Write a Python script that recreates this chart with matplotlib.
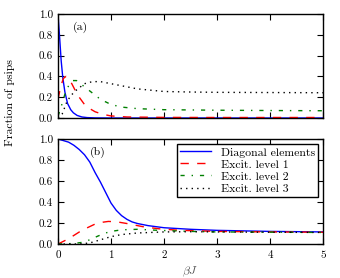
import matplotlib
matplotlib.use('Agg')
import matplotlib.pyplot as plt

plt.rcParams['font.family'] = ['cmr10', 'DejaVu Serif']
plt.rcParams['mathtext.fontset'] = 'cm'
plt.rcParams['axes.unicode_minus'] = False
plt.rcParams['lines.scale_dashes'] = False

# --- panel (a) data ---
xa_diag = [0, 0.03, 0.06, 0.09, 0.13, 0.18, 0.24, 0.29, 0.36, 0.45, 0.55, 0.7, 1.0, 2.0, 3.0, 4.0, 5.0]
ya_diag = [1.0, 0.78, 0.55, 0.39, 0.25, 0.14, 0.08, 0.05, 0.025, 0.01, 0.004, 0.001, 0.0, 0.0, 0.0, 0.0, 0.0]

xa_ex1 = [0, 0.05, 0.1, 0.15, 0.2, 0.26, 0.33, 0.4, 0.5, 0.6, 0.7, 0.85, 1.0, 1.3, 2.0, 3.0, 4.0, 5.0]
ya_ex1 = [0.18, 0.3, 0.38, 0.4, 0.38, 0.33, 0.26, 0.2, 0.13, 0.09, 0.06, 0.035, 0.02, 0.01, 0.006, 0.005, 0.005, 0.005]

xa_ex2 = [0, 0.05, 0.1, 0.15, 0.2, 0.28, 0.35, 0.45, 0.6, 0.8, 1.0, 1.2, 1.5, 2.0, 3.0, 4.0, 5.0]
ya_ex2 = [0.02, 0.09, 0.18, 0.26, 0.31, 0.36, 0.36, 0.32, 0.26, 0.18, 0.13, 0.105, 0.09, 0.08, 0.075, 0.072, 0.07]

xa_ex3 = [0, 0.08, 0.17, 0.25, 0.35, 0.5, 0.65, 0.8, 1.0, 1.2, 1.5, 2.0, 2.5, 3.0, 4.0, 5.0]
ya_ex3 = [0.0, 0.04, 0.16, 0.22, 0.27, 0.33, 0.35, 0.35, 0.33, 0.31, 0.28, 0.255, 0.25, 0.247, 0.245, 0.243]

# --- panel (b) data ---
xb_diag = [0, 0.2, 0.3, 0.4, 0.5, 0.6, 0.7, 0.8, 0.9, 1.0, 1.1, 1.2, 1.3, 1.4, 1.5, 1.7, 2.0, 2.5, 3.0, 4.0, 5.0]
yb_diag = [1.0, 0.97, 0.94, 0.9, 0.85, 0.78, 0.68, 0.59, 0.49, 0.39, 0.32, 0.27, 0.235, 0.21, 0.195, 0.175, 0.155,
           0.14, 0.13, 0.12, 0.115]

xb_ex1 = [0, 0.2, 0.45, 0.7, 0.85, 0.95, 1.1, 1.3, 1.6, 1.9, 2.3, 3.0, 4.0, 5.0]
yb_ex1 = [0.0, 0.05, 0.13, 0.19, 0.208, 0.215, 0.212, 0.195, 0.165, 0.145, 0.13, 0.12, 0.115, 0.112]

xb_ex2 = [0, 0.3, 0.45, 0.6, 0.75, 0.9, 1.0, 1.2, 1.5, 1.9, 2.5, 3.0, 4.0, 5.0]
yb_ex2 = [0.0, 0.005, 0.015, 0.04, 0.075, 0.105, 0.12, 0.135, 0.14, 0.13, 0.12, 0.115, 0.113, 0.11]

xb_ex3 = [0, 0.4, 0.6, 0.8, 1.0, 1.2, 1.5, 2.0, 2.5, 3.0, 4.0, 5.0]
yb_ex3 = [0.0, 0.0, 0.01, 0.04, 0.07, 0.09, 0.105, 0.115, 0.117, 0.115, 0.112, 0.11]

labels = ['Diagonal elements', 'Excit. level 1', 'Excit. level 2', 'Excit. level 3']
xticks = [0, 1, 2, 3, 4, 5]
yticks = [0.0, 0.2, 0.4, 0.6, 0.8, 1.0]

styles = [
    dict(color='b', linestyle='-'),
    dict(color='r', linestyle=(0, (6, 6))),
    dict(color='g', linestyle=(0, (3, 5, 1, 5))),
    dict(color='k', linestyle=(0, (1, 3))),
]

fig = plt.figure(figsize=(3.4, 2.78), dpi=100)
ax_a = fig.add_axes([0.1706, 0.5755, 0.7794, 0.374])
ax_b = fig.add_axes([0.1706, 0.1223, 0.7794, 0.3777])

series_a = [(xa_diag, ya_diag), (xa_ex1, ya_ex1), (xa_ex2, ya_ex2), (xa_ex3, ya_ex3)]
series_b = [(xb_diag, yb_diag), (xb_ex1, yb_ex1), (xb_ex2, yb_ex2), (xb_ex3, yb_ex3)]

for (x, y), st, lab in zip(series_a, styles, labels):
    ax_a.plot(x, y, lw=1.0, label=lab, **st)
for (x, y), st, lab in zip(series_b, styles, labels):
    ax_b.plot(x, y, lw=1.0, label=lab, **st)

for ax in (ax_a, ax_b):
    ax.set_xlim(0, 5)
    ax.set_ylim(0, 1.0)
    ax.set_xticks(xticks)
    ax.set_yticks(yticks)
    ax.set_yticklabels(['%.1f' % v for v in yticks])
    ax.tick_params(direction='in', top=True, right=True, length=4, width=0.8, labelsize=8)
    for sp in ax.spines.values():
        sp.set_linewidth(1.0)

ax_a.set_xticklabels([])
ax_b.set_xticklabels([str(v) for v in xticks])
ax_b.tick_params(axis='x', pad=5)

ax_a.text(0.42, 0.875, '(a)', fontsize=8.5, ha='center', va='center')
ax_b.text(0.75, 0.87, '(b)', fontsize=8.5, ha='center', va='center')

leg = ax_b.legend(loc='upper right', fontsize=8.5, fancybox=False, framealpha=1,
                  edgecolor='k', handlelength=2.6, handletextpad=0.8, borderpad=0.3,
                  labelspacing=0.15, borderaxespad=0.4)
leg.get_frame().set_linewidth(1.0)

# axis labels placed by hand to sit where the original has them
fig.text(190 / 340, 1 - 272 / 278, r'$\beta J$', fontsize=8.5, color='#555555',
         ha='center', va='center')
fig.text(10 / 340, 1 - 103 / 278, 'Fraction of psips', rotation=90, fontsize=8.5,
         ha='center', va='center', rotation_mode='anchor')

fig.savefig('out.png', dpi=100)
